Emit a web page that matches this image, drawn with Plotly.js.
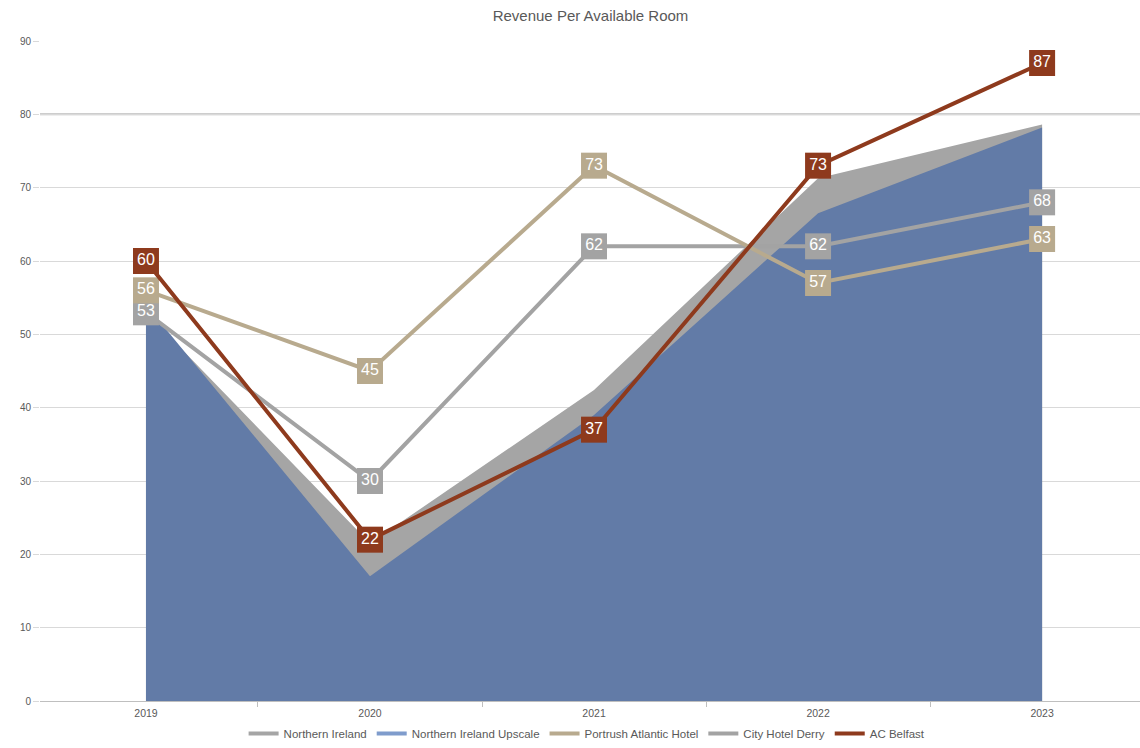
<!DOCTYPE html>
<html>
<head>
<meta charset="utf-8">
<script src="https://cdn.plot.ly/plotly-3.0.1.min.js"></script>
<style>html,body{margin:0;padding:0;background:#fff;}#chart{width:1140px;height:748px;}</style>
</head>
<body>
<div id="chart"></div>
<script>
const years = ["2019", "2020", "2021", "2022", "2023"];
const northernIreland = [53, 21.5, 42.4, 71.3, 78.6];
const northernIrelandUpscale = [54, 17, 39, 66.5, 78.2];
const portrush = [56, 45, 73, 57, 63];
const cityHotelDerry = [53, 30, 62, 62, 68];
const acBelfast = [60, 22, 37, 73, 87];
const yTicks = [0, 10, 20, 30, 40, 50, 60, 70, 80, 90];

const names = ["Northern Ireland", "Northern Ireland Upscale", "Portrush Atlantic Hotel", "City Hotel Derry", "AC Belfast"];
const colors = ["#a5a5a5", "#7f9ccc", "#b8aa8e", "#a3a3a3", "#8e3a1d"];

const font = "Liberation Sans, Arial, sans-serif";

function lineTrace(name, y, color) {
  return {
    type: "scatter", mode: "lines+markers+text", name: name, x: years, y: y,
    line: {color: color, width: 4},
    marker: {symbol: "square", size: 26, color: color, line: {width: 0}},
    text: y.map(v => String(v)), textposition: "middle center",
    textfont: {color: "#ffffff", size: 16, family: font},
    showlegend: false, hoverinfo: "x+y+name"
  };
}

const traces = [
  {type: "scatter", mode: "none", name: names[0], x: years, y: northernIreland,
   fill: "tozeroy", fillcolor: "#a5a5a5", showlegend: false},
  {type: "scatter", mode: "none", name: names[1], x: years, y: northernIrelandUpscale,
   fill: "tozeroy", fillcolor: "#627ba7", showlegend: false},
  lineTrace(names[3], cityHotelDerry, colors[3]),
  lineTrace(names[2], portrush, colors[2]),
  lineTrace(names[4], acBelfast, colors[4])
];
// legend-only entries (line symbols, as in the reference legend)
names.forEach((n, i) => {
  traces.push({type: "scatter", mode: "lines", name: n, x: [null], y: [null],
               line: {color: colors[i], width: 4}, showlegend: true, legendrank: i + 1});
});

const layout = {
  width: 1140, height: 748,
  margin: {l: 40, r: 0, t: 41, b: 47},
  paper_bgcolor: "#ffffff", plot_bgcolor: "#ffffff",
  font: {family: font, color: "#595959"},
  title: {text: "Revenue Per Available Room", x: 0.518, xanchor: "center", y: 0.979, yanchor: "middle",
          font: {size: 15, color: "#595959", family: font}},
  xaxis: {type: "category", range: [-0.473, 4.437], showgrid: false, showline: true,
          linecolor: "#bfbfbf", linewidth: 1, ticks: "outside", tickson: "boundaries",
          ticklen: 5, tickcolor: "#bfbfbf", tickfont: {size: 10.5, color: "#595959"}, zeroline: false,
          ticklabelstandoff: 2},
  yaxis: {range: [0, 90], tickvals: yTicks, showgrid: true, gridcolor: "#d9d9d9", gridwidth: 1,
          zeroline: false, showline: false, ticks: "outside", ticklen: 6, tickcolor: "#d9d9d9",
          tickfont: {size: 10, color: "#595959"}},
  shapes: [{type: "line", xref: "paper", x0: 0, x1: 1, yref: "y", y0: yTicks[8], y1: yTicks[8],
            line: {color: "#bdbdbd", width: 2}, layer: "below"}],
  legend: {orientation: "h", xref: "container", x: 0.515, xanchor: "center",
           yref: "container", y: -0.004, yanchor: "bottom", bgcolor: "rgba(0,0,0,0)",
           font: {size: 11.5, color: "#595959"}, traceorder: "normal", itemwidth: 30,
           tracegroupgap: 0},
  showlegend: true
};

Plotly.newPlot("chart", traces, layout, {displayModeBar: false, staticPlot: true});
</script>
</body>
</html>
